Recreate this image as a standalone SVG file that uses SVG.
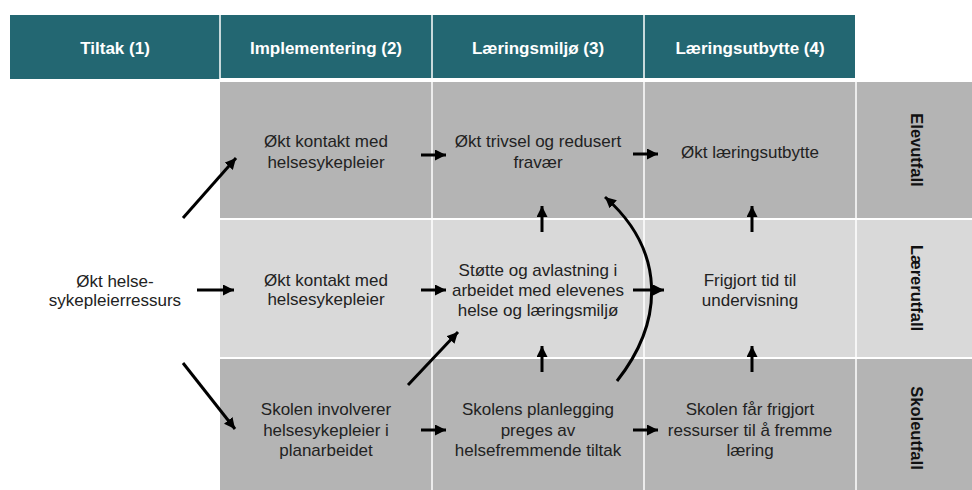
<svg xmlns="http://www.w3.org/2000/svg" width="972" height="490" viewBox="0 0 972 490">
  <style>
    .hdr { fill: #236772; }
    .hdrt { font-family: "Liberation Sans", Arial, sans-serif; font-size: 17px; font-weight: bold; fill: #ffffff; text-anchor: middle; }
    .t { font-family: "Liberation Sans", Arial, sans-serif; font-size: 17px; fill: #222222; text-anchor: middle; }
    .side { font-family: "Liberation Sans", Arial, sans-serif; font-size: 16.5px; font-weight: bold; fill: #111111; text-anchor: middle; }
    .dark { fill: #b4b4b4; }
    .light { fill: #d9d9d9; }
    .sep { stroke: #ffffff; stroke-width: 1.5; }
    .arr { stroke: #000000; stroke-width: 3; fill: none; marker-end: url(#ah); }
  </style>
  <defs>
    <marker id="ah" viewBox="0 0 10 10" refX="10" refY="5" markerWidth="11" markerHeight="11" markerUnits="userSpaceOnUse" orient="auto">
      <path d="M0,0 L10,5 L0,10 z" fill="#000000"/>
    </marker>
  </defs>
  <rect x="0" y="0" width="972" height="490" fill="#ffffff"/>

  <!-- header -->
  <g id="header">
    <rect class="hdr" x="10" y="15" width="210" height="64"/>
    <rect class="hdr" x="220" y="15" width="212" height="63"/>
    <rect class="hdr" x="432" y="15" width="212" height="63"/>
    <rect class="hdr" x="644" y="15" width="211" height="63"/>
    <line class="sep" x1="220" y1="15" x2="220" y2="79"/>
    <line class="sep" x1="432" y1="15" x2="432" y2="78"/>
    <line class="sep" x1="644" y1="15" x2="644" y2="78"/>
    <text class="hdrt" x="115" y="54">Tiltak (1)</text>
    <text class="hdrt" x="326" y="54">Implementering (2)</text>
    <text class="hdrt" x="538" y="54">Læringsmiljø (3)</text>
    <text class="hdrt" x="750" y="54">Læringsutbytte (4)</text>
  </g>

  <!-- grid -->
  <g id="grid">
    <rect class="dark" x="220" y="82" width="752" height="136"/>
    <rect class="light" x="220" y="220" width="752" height="137"/>
    <rect class="dark" x="220" y="359" width="752" height="131"/>
    <line class="sep" x1="432" y1="82" x2="432" y2="490"/>
    <line class="sep" x1="644" y1="82" x2="644" y2="490"/>
    <line class="sep" x1="856" y1="82" x2="856" y2="490"/>
  </g>

  <g id="side-labels">
    <text class="side" transform="translate(911,150) rotate(90)">Elevutfall</text>
    <text class="side" transform="translate(911,288) rotate(90)">Lærerutfall</text>
    <text class="side" transform="translate(911,428) rotate(90)">Skoleutfall</text>
  </g>

  <g id="n-tiltak">
    <text class="t" x="115" y="287">Økt helse-</text>
    <text class="t" x="115" y="306">sykepleierressurs</text>
  </g>

  <g id="n-r1c2">
    <text class="t" x="326" y="147">Økt kontakt med</text>
    <text class="t" x="326" y="168">helsesykepleier</text>
  </g>
  <g id="n-r1c3">
    <text class="t" x="538" y="147">Økt trivsel og redusert</text>
    <text class="t" x="538" y="168">fravær</text>
  </g>
  <g id="n-r1c4">
    <text class="t" x="750" y="157.5">Økt læringsutbytte</text>
  </g>

  <g id="n-r2c2">
    <text class="t" x="326" y="286">Økt kontakt med</text>
    <text class="t" x="326" y="305">helsesykepleier</text>
  </g>
  <g id="n-r2c3">
    <text class="t" x="538" y="276">Støtte og avlastning i</text>
    <text class="t" x="538" y="296">arbeidet med elevenes</text>
    <text class="t" x="538" y="316">helse og læringsmiljø</text>
  </g>
  <g id="n-r2c4">
    <text class="t" x="750" y="286">Frigjort tid til</text>
    <text class="t" x="750" y="306">undervisning</text>
  </g>

  <g id="n-r3c2">
    <text class="t" x="326" y="415">Skolen involverer</text>
    <text class="t" x="326" y="436">helsesykepleier i</text>
    <text class="t" x="326" y="456">planarbeidet</text>
  </g>
  <g id="n-r3c3">
    <text class="t" x="538" y="415">Skolens planlegging</text>
    <text class="t" x="538" y="436">preges av</text>
    <text class="t" x="538" y="456">helsefremmende tiltak</text>
  </g>
  <g id="n-r3c4">
    <text class="t" x="750" y="415">Skolen får frigjort</text>
    <text class="t" x="750" y="436">ressurser til å fremme</text>
    <text class="t" x="750" y="456">læring</text>
  </g>

  <!-- connectors -->
  <g id="connectors">
    <line class="arr" x1="183" y1="218" x2="236" y2="158"/>
    <line class="arr" x1="197" y1="290" x2="234" y2="290"/>
    <line class="arr" x1="183" y1="363" x2="235" y2="429"/>
    <line class="arr" x1="421" y1="155" x2="446" y2="155"/>
    <line class="arr" x1="633" y1="154" x2="658" y2="154"/>
    <line class="arr" x1="421" y1="290" x2="446" y2="290"/>
    <line class="arr" x1="633" y1="290" x2="664" y2="290"/>
    <line class="arr" x1="421" y1="430" x2="446" y2="430"/>
    <line class="arr" x1="633" y1="430" x2="658" y2="430"/>
    <line class="arr" x1="542" y1="232" x2="542" y2="206"/>
    <line class="arr" x1="752" y1="232" x2="752" y2="206"/>
    <line class="arr" x1="542" y1="372" x2="542" y2="346"/>
    <line class="arr" x1="752" y1="372" x2="752" y2="346"/>
    <line class="arr" x1="408" y1="385" x2="458" y2="332"/>
    <path class="arr" d="M617,381 C665,320 665,250 605,197"/>
  </g>
</svg>
